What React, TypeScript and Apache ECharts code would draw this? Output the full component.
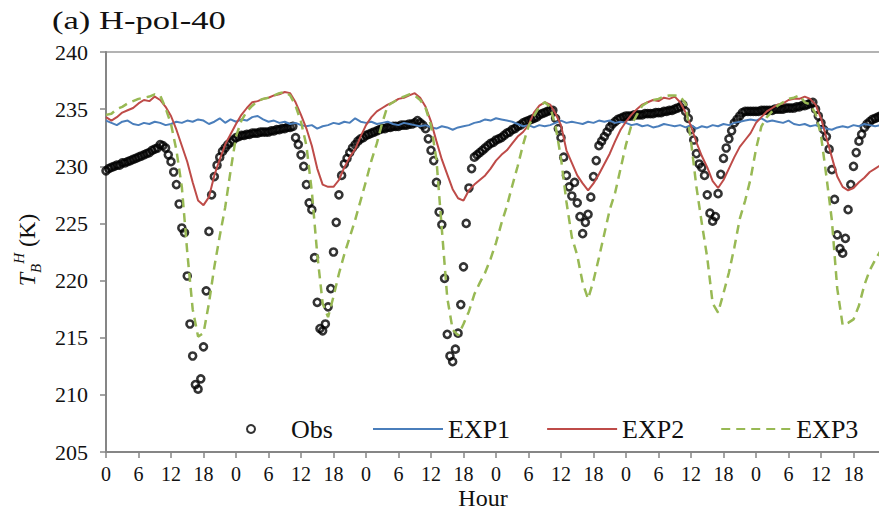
import React, { useEffect, useRef } from "react";
import * as echarts from "echarts";

const TITLE = "(a) H-pol-40";
const Y_NAME = "T_B^H (K)";
const X_NAME = "Hour";
const SERIES_NAMES = ["Obs", "EXP1", "EXP2", "EXP3"];
const HOUR_LABEL_PERIOD = 24;

// Observations every half hour (48 per day)
const OBS_DAY1 = [229.6, 229.8, 229.9, 230.0, 230.1, 230.1, 230.3, 230.3, 230.4, 230.5, 230.6, 230.7, 230.8, 230.9, 231.0, 231.1, 231.2, 231.4, 231.5, 231.6, 231.9, 231.8, 231.6, 231.0, 230.4, 229.5, 228.4, 226.7, 224.6, 224.2, 220.4, 216.2, 213.4, 210.9, 210.5, 211.4, 214.2, 219.1, 224.3, 227.5, 229.1, 230.1, 230.8, 231.3, 231.6, 231.9, 232.1, 232.3];
const OBS_DAY2 = [232.5, 232.6, 232.7, 232.7, 232.8, 232.8, 232.9, 232.9, 232.9, 233.0, 233.0, 233.0, 233.0, 233.1, 233.1, 233.2, 233.2, 233.3, 233.3, 233.4, 233.4, 233.5, 232.5, 231.9, 231.0, 230.0, 228.4, 226.8, 226.2, 222.0, 218.1, 215.8, 215.6, 216.2, 217.7, 219.3, 222.5, 225.1, 227.5, 229.2, 230.2, 230.7, 231.2, 231.6, 231.9, 232.2, 232.4, 232.5];
const OBS_DAY3 = [232.7, 232.8, 232.9, 233.0, 233.1, 233.2, 233.3, 233.3, 233.4, 233.4, 233.5, 233.5, 233.5, 233.6, 233.6, 233.6, 233.7, 233.7, 233.8, 234.0, 233.8, 233.6, 233.3, 232.4, 231.4, 230.5, 228.6, 226.0, 224.9, 220.2, 215.3, 213.4, 212.9, 214.0, 215.4, 217.9, 221.2, 225.0, 228.1, 229.8, 230.8, 231.0, 231.2, 231.4, 231.6, 231.8, 232.0, 232.1];
const OBS_DAY4 = [232.3, 232.4, 232.5, 232.7, 232.9, 233.0, 233.2, 233.3, 233.5, 233.6, 233.8, 233.9, 234.0, 234.1, 234.2, 234.3, 234.5, 234.6, 234.7, 234.8, 234.9, 234.9, 234.2, 233.3, 232.5, 230.8, 229.2, 228.2, 227.4, 228.6, 226.8, 225.6, 224.1, 225.1, 225.8, 227.3, 229.1, 230.5, 231.8, 232.2, 232.6, 233.0, 233.4, 233.7, 233.9, 234.1, 234.2, 234.3];
const OBS_DAY5 = [234.4, 234.4, 234.4, 234.5, 234.5, 234.5, 234.5, 234.6, 234.6, 234.6, 234.6, 234.7, 234.7, 234.7, 234.8, 234.8, 234.9, 234.9, 235.0, 235.1, 235.2, 235.4, 234.8, 234.2, 233.2, 232.3, 231.1, 230.2, 229.9, 229.2, 227.5, 225.9, 225.2, 225.6, 227.6, 229.3, 230.7, 231.6, 232.4, 233.1, 233.8, 234.1, 234.4, 234.7, 234.8, 234.8, 234.8, 234.8];
const OBS_DAY6 = [234.8, 234.8, 234.9, 234.9, 234.9, 234.9, 234.9, 235.0, 235.0, 235.0, 235.0, 235.1, 235.1, 235.1, 235.1, 235.2, 235.2, 235.3, 235.3, 235.4, 235.5, 235.6, 235.0, 234.4, 233.8, 233.2, 232.6, 231.5, 229.7, 227.1, 224.0, 222.8, 222.4, 223.7, 226.2, 228.4, 230.0, 231.2, 232.2, 232.8, 233.4, 233.7, 233.9, 234.1, 234.2, 234.3, 234.4, 234.4];
const OBS_STEP_HOURS = 0.5;

// Model runs, hourly (24 per day)
const EXP1_VALUES = [
  234.0, 233.8, 233.6, 233.9, 234.0, 233.7, 233.6, 233.8, 233.7, 233.9, 233.8, 233.6, 233.7, 233.9, 233.8, 234.0, 233.9, 234.1, 234.0, 233.7, 233.9, 234.2, 233.8, 234.1,
  233.9, 234.1, 234.0, 234.3, 234.4, 234.1, 233.9, 234.0, 233.8, 233.9, 233.7, 233.8, 233.6, 233.5, 233.6, 233.3, 233.5, 233.6, 233.8, 233.7, 233.9, 233.8, 234.2, 233.9,
  233.8, 233.9, 233.7, 233.8, 233.9, 233.7, 233.6, 233.8, 233.7, 233.6, 233.5, 233.6, 233.4, 233.3, 233.5, 233.4, 233.2, 233.4, 233.5, 233.6, 233.8, 233.9, 234.1, 234.0,
  234.2, 234.1, 234.0, 233.9, 233.7, 233.5, 233.6, 233.4, 233.6, 233.5, 233.6, 233.8, 234.0, 233.8, 233.9, 233.8, 233.7, 233.9, 233.8, 234.0, 233.9, 234.0, 233.8, 233.9,
  233.8, 233.6, 233.7, 233.5, 233.6, 233.4, 233.5, 233.7, 233.6, 233.5, 233.6, 233.4, 233.6, 233.3, 233.5, 233.4, 233.6, 233.5, 233.7, 233.6, 233.8, 233.9, 234.0, 234.1,
  234.0, 234.2, 233.9, 234.0, 233.9, 233.8, 234.0, 233.7, 233.6, 233.7, 233.5, 233.6, 233.4, 233.3, 233.2, 233.4, 233.5, 233.4, 233.6, 233.5, 233.7, 233.6, 233.5, 233.6,
];
const EXP2_VALUES = [
  234.3, 234.0, 234.3, 234.7, 234.9, 235.1, 235.5, 235.8, 235.7, 236.1, 235.8, 235.2, 234.4, 233.2, 231.8, 230.4, 228.6, 227.0, 226.6, 227.3, 229.2, 230.6, 231.9, 232.8,
  233.7, 234.5, 235.1, 235.6, 235.7, 235.9, 236.0, 236.2, 236.3, 236.5, 236.4, 235.6, 234.5, 233.3, 231.8, 229.8, 228.4, 228.2, 228.2, 228.8, 229.9, 230.8, 231.5, 232.6,
  233.6, 234.3, 234.8, 235.1, 235.4, 235.6, 235.9, 236.0, 236.2, 236.4, 236.0, 235.2, 233.9, 232.2, 230.6, 229.3, 228.0, 227.2, 227.0, 227.9, 228.4, 228.8, 229.2, 229.8,
  230.5, 231.0, 231.4, 232.0, 232.6, 233.0, 233.6, 234.7, 235.3, 235.6, 235.4, 234.6, 233.6, 231.4, 230.3, 229.2, 228.5, 227.9, 228.5, 229.3, 230.2, 231.1, 232.2, 233.2,
  233.9, 234.5, 235.0, 235.4, 235.6, 235.8, 235.7, 236.0, 235.9, 236.1, 235.6, 234.7, 233.5, 232.1, 230.9, 229.9, 228.7, 228.1, 228.8, 229.8, 230.8, 231.7, 232.3, 232.9,
  233.8, 234.3, 234.8, 235.1, 235.4, 235.5, 235.8, 235.9, 235.9, 236.1, 235.9, 235.4, 234.2, 232.5, 230.8, 229.1, 228.2, 227.9, 228.1, 228.6, 229.0, 229.5, 229.8, 230.1,
];
const EXP3_VALUES = [
  234.5, 234.6, 235.0, 235.2, 235.5, 235.7, 235.9, 236.0, 236.1, 236.3, 236.2, 235.1, 233.7, 231.4, 228.2, 222.5, 217.5, 215.1, 215.4, 218.0, 221.2, 223.9, 226.4, 229.6,
  232.6, 234.0, 234.8, 235.3, 235.7, 235.9, 236.0, 236.2, 236.4, 236.5, 236.2, 235.3, 233.9, 231.8, 227.8, 222.3, 218.0, 216.8, 218.6, 220.6, 222.3, 223.8, 225.3, 227.0,
  228.7, 230.5, 232.0, 233.8, 235.3, 235.6, 235.9, 236.1, 236.3, 236.2, 235.8, 235.1, 233.6, 230.6, 224.5, 218.5, 215.7, 215.2, 216.2, 217.3, 218.8, 219.8, 220.7, 221.9,
  223.3, 225.0, 226.5, 228.3, 230.0, 231.9, 233.5, 234.4, 235.2, 235.6, 235.2, 233.5, 230.7, 226.9, 223.8, 222.2, 219.8, 218.4, 220.0, 222.0, 224.1, 226.2, 227.7, 229.8,
  231.9, 233.6, 234.5, 235.3, 235.6, 235.8, 235.9, 236.1, 236.2, 236.2, 236.1, 235.5, 232.2, 228.2, 225.0, 222.0, 218.0, 217.2, 218.9, 220.7, 222.9, 225.4, 227.0, 228.9,
  231.5, 233.5, 234.3, 234.8, 235.3, 235.6, 235.9, 236.0, 236.2, 235.6, 235.4, 234.6, 232.7, 229.1, 225.3, 219.3, 216.1, 216.3, 216.6, 217.8, 219.6, 220.9, 221.8, 222.6,
];
const MODEL_STEP_HOURS = 1;

const Y_MIN = 205;
const Y_MAX = 240;
const Y_STEP = 5;
const X_MIN = 0;
const X_MAX = 144;
const X_STEP = 6;

const FONT = "'Liberation Serif', 'Times New Roman', Times, serif";

const toPairs = (vals: number[], step: number) => vals.map((v, i) => [i * step, v]);

export default function App() {
  const ref = useRef<HTMLDivElement>(null);
  useEffect(() => {
    if (!ref.current) return;
    const chart = echarts.init(ref.current, null, { renderer: "svg" });
    const obs = [...OBS_DAY1, ...OBS_DAY2, ...OBS_DAY3, ...OBS_DAY4, ...OBS_DAY5, ...OBS_DAY6];
    const axisColor = "#868686";
    const hideSym = { opacity: 0 };
    const legendCommon = {
      top: 416,
      padding: 0,
      itemWidth: 70,
      itemHeight: 8,
      itemGap: 36,
      textStyle: { fontFamily: FONT, fontSize: 26, color: "#111" },
    };
    chart.setOption({
      animation: false,
      backgroundColor: "#ffffff",
      grid: {
        left: 106,
        right: -7,
        top: 52,
        bottom: 58,
        outerBoundsMode: "none",
        containLabel: false,
        show: true,
        borderColor: "#9a9a9a",
        borderWidth: 1.5,
      },
      legend: [
        {
          ...legendCommon,
          data: [{ name: SERIES_NAMES[0] }],
          left: 246,
        },
        {
          ...legendCommon,
          data: [
            { name: SERIES_NAMES[1], itemStyle: hideSym },
            { name: SERIES_NAMES[2], itemStyle: hideSym },
            { name: SERIES_NAMES[3], itemStyle: hideSym },
          ],
          left: 372,
        },
      ],
      xAxis: {
        type: "value",
        min: X_MIN,
        max: X_MAX,
        interval: X_STEP,
        axisLine: { show: true, lineStyle: { color: axisColor, width: 2 } },
        axisTick: { show: true, length: 6, lineStyle: { color: axisColor, width: 1.5 } },
        splitLine: { show: false },
        axisLabel: {
          margin: 12,
          fontFamily: FONT,
          fontSize: 20,
          color: "#111",
          formatter: (v: number) => (v >= X_MAX ? "" : String(Math.round(v) % HOUR_LABEL_PERIOD)),
        },
      },
      yAxis: {
        type: "value",
        min: Y_MIN,
        max: Y_MAX,
        interval: Y_STEP,
        axisLine: { show: true, lineStyle: { color: axisColor, width: 2 } },
        axisTick: { show: true, length: 6, lineStyle: { color: axisColor, width: 1.5 } },
        splitLine: { show: false },
        axisLabel: { margin: 18, fontFamily: FONT, fontSize: 22, color: "#111" },
      },
      graphic: [
        {
          type: "text",
          x: 52,
          y: 21,
          scaleX: 1.33,
          style: { text: TITLE, fontFamily: FONT, fontSize: 26, fill: "#111", verticalAlign: "middle" },
        },
        {
          type: "text",
          x: 483,
          y: 498,
          style: {
            text: X_NAME,
            fontFamily: FONT,
            fontSize: 24,
            fill: "#111",
            align: "center",
            verticalAlign: "middle",
          },
        },
        {
          type: "text",
          x: 27,
          y: 250,
          rotation: Math.PI / 2,
          style: {
            text: "{t|T}{s|B}{p|H}{n| (K)}",
            align: "center",
            verticalAlign: "middle",
            fill: "#111",
            rich: {
              t: { fontFamily: FONT, fontStyle: "italic", fontSize: 24, lineHeight: 32, verticalAlign: "middle", fill: "#111" },
              s: { fontFamily: FONT, fontStyle: "italic", fontSize: 15, lineHeight: 15, verticalAlign: "bottom", fill: "#111" },
              p: { fontFamily: FONT, fontStyle: "italic", fontSize: 15, lineHeight: 15, verticalAlign: "top", fill: "#111" },
              n: { fontFamily: FONT, fontSize: 24, lineHeight: 32, verticalAlign: "middle", fill: "#111" },
            },
          },
        },
      ],
      series: [
        {
          name: SERIES_NAMES[0],
          type: "scatter",
          symbol: "circle",
          symbolSize: 7,
          itemStyle: { color: "rgba(255,255,255,0)", borderColor: "#000", borderWidth: 2.6 },
          data: toPairs(obs, OBS_STEP_HOURS),
          z: 2,
        },
        {
          name: SERIES_NAMES[1],
          type: "line",
          showSymbol: false,
          symbol: "none",
          lineStyle: { color: "#4a7ebb", width: 2 },
          itemStyle: { color: "#4a7ebb" },
          data: toPairs(EXP1_VALUES, MODEL_STEP_HOURS),
          z: 3,
        },
        {
          name: SERIES_NAMES[2],
          type: "line",
          showSymbol: false,
          symbol: "none",
          lineStyle: { color: "#be4b48", width: 2 },
          itemStyle: { color: "#be4b48" },
          data: toPairs(EXP2_VALUES, MODEL_STEP_HOURS),
          z: 4,
        },
        {
          name: SERIES_NAMES[3],
          type: "line",
          showSymbol: false,
          symbol: "none",
          lineStyle: { color: "#98b954", width: 2.5, type: [9, 6] },
          itemStyle: { color: "#98b954" },
          data: toPairs(EXP3_VALUES, MODEL_STEP_HOURS),
          z: 5,
        },
      ],
    });
    return () => chart.dispose();
  }, []);
  return (
    <div
      ref={ref}
      data-yname={Y_NAME}
      style={{ position: "fixed", left: 0, top: 0, width: 879, height: 510, background: "#fff" }}
    />
  );
}
